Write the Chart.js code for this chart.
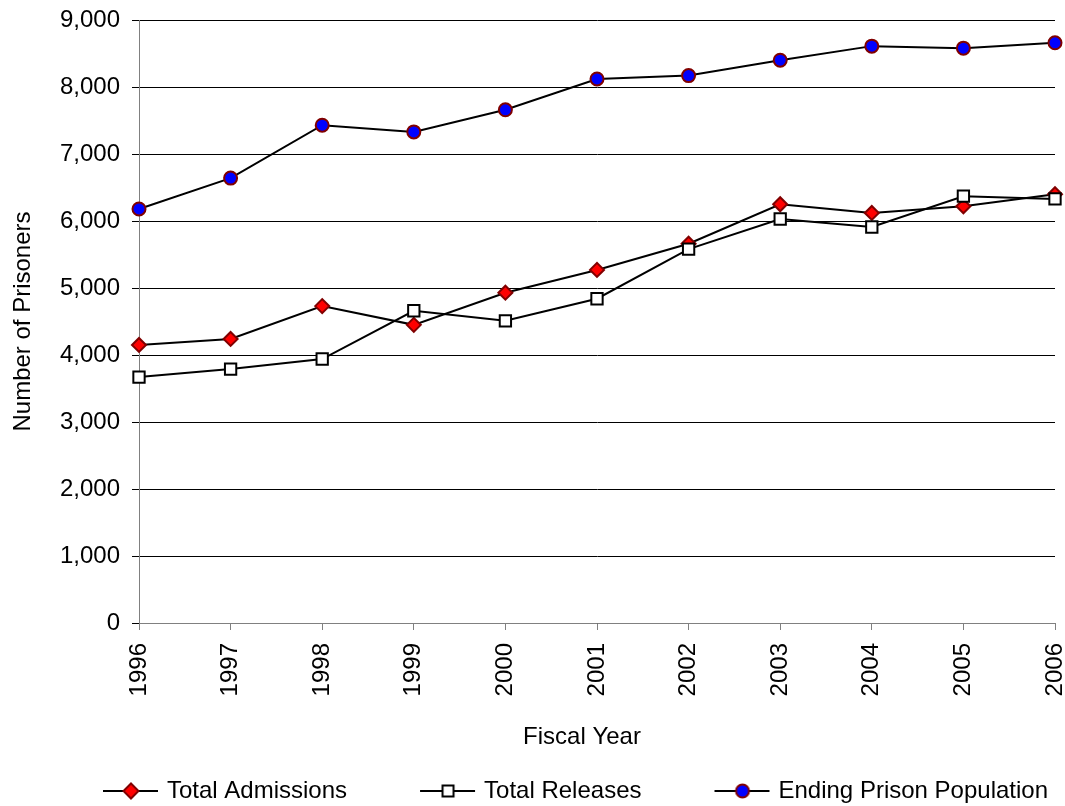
<!DOCTYPE html>
<html>
<head>
<meta charset="utf-8">
<script src="https://cdn.jsdelivr.net/npm/chart.js@4"></script>
<style>
html, body { margin:0; padding:0; background:#fff; }
#wrap { width:1065px; height:806px; position:relative; }
</style>
</head>
<body>
<div id="wrap"><canvas id="prisonChart"></canvas></div>
<script>
var years = ['1996','1997','1998','1999','2000','2001','2002','2003','2004','2005','2006'];
var totalAdmissions = [4150, 4240, 4730, 4450, 4930, 5270, 5660, 6250, 6120, 6220, 6400];
var totalReleases = [3670, 3790, 3940, 4660, 4510, 4840, 5580, 6030, 5910, 6370, 6330];
var endingPopulation = [6180, 6640, 7430, 7330, 7660, 8120, 8170, 8400, 8610, 8580, 8660];
var seriesNames = ['Total Admissions', 'Total Releases', 'Ending Prison Population'];
var xTitle = 'Fiscal Year';
var yTitle = 'Number of Prisoners';
var yMin = 0, yMax = 9000, yStep = 1000;

Chart.defaults.font.family = '"Liberation Sans", Arial, sans-serif';
Chart.defaults.font.size = 24;
Chart.defaults.color = '#000';

/* legend icon: line with marker, drawn to a small canvas */
var legendBox = 118;
function legendIcon(style, fill, border) {
	var w = legendBox + 12, h = 20;
	var c = document.createElement('canvas');
	c.width = w; c.height = h;
	var g = c.getContext('2d');
	var cx = w - 30, cy = h / 2;
	g.strokeStyle = '#000';
	g.lineWidth = 2;
	g.beginPath(); g.moveTo(w - 58, cy); g.lineTo(w - 3, cy); g.stroke();
	g.fillStyle = fill;
	g.strokeStyle = border;
	g.lineWidth = 2;
	g.beginPath();
	if (style === 'circle') {
		g.arc(cx, cy, 6.5, 0, Math.PI * 2);
	} else if (style === 'rectRot') {
		g.moveTo(cx, cy - 7.5); g.lineTo(cx + 7.5, cy); g.lineTo(cx, cy + 7.5); g.lineTo(cx - 7.5, cy); g.closePath();
	} else {
		g.rect(cx - 5.5, cy - 5.5, 11, 11);
	}
	g.fill(); g.stroke();
	return c;
}

var icons = [
	legendIcon('rectRot', '#ff0000', '#800000'),
	legendIcon('rect', '#ffffff', '#000000'),
	legendIcon('circle', '#0000ff', '#800000')
];

/* x axis title sits a little left of the plot centre in the original */
var xTitlePlugin = {
	id: 'xTitlePlugin',
	afterDraw: function(chart) {
		var c = chart.ctx;
		var xs = chart.scales.x;
		c.save();
		c.font = '24px "Liberation Sans", Arial, sans-serif';
		c.fillStyle = '#000';
		c.textAlign = 'center';
		c.textBaseline = 'middle';
		c.fillText(xTitle, (xs.left + xs.right) / 2 - 15, xs.bottom - 35);
		c.restore();
	}
};

var ctx = document.getElementById('prisonChart').getContext('2d');
var myChart = new Chart(ctx, {
	type: 'line',
	data: {
		labels: years,
		datasets: [{
			label: seriesNames[0],
			data: totalAdmissions,
			borderColor: '#000',
			borderWidth: 2,
			pointStyle: 'rectRot',
			pointRadius: 7,
			pointHoverRadius: 7,
			pointBackgroundColor: '#ff0000',
			pointBorderColor: '#800000',
			pointBorderWidth: 2,
			tension: 0,
			order: 2
		}, {
			label: seriesNames[1],
			data: totalReleases,
			borderColor: '#000',
			borderWidth: 2,
			pointStyle: 'rect',
			pointRadius: 8,
			pointHoverRadius: 8,
			pointBackgroundColor: '#fff',
			pointBorderColor: '#000',
			pointBorderWidth: 2,
			tension: 0,
			order: 1
		}, {
			label: seriesNames[2],
			data: endingPopulation,
			borderColor: '#000',
			borderWidth: 2,
			pointStyle: 'circle',
			pointRadius: 6.5,
			pointHoverRadius: 6.5,
			pointBackgroundColor: '#0000ff',
			pointBorderColor: '#800000',
			pointBorderWidth: 2,
			tension: 0,
			order: 0
		}]
	},
	options: {
		responsive: true,
		maintainAspectRatio: false,
		animation: false,
		devicePixelRatio: 1,
		layout: { padding: { top: 20, right: 10, bottom: -7, left: 0 } },
		plugins: {
			tooltip: { enabled: false },
			legend: {
				position: 'bottom',
				align: 'end',
				labels: {
					usePointStyle: true,
					pointStyleWidth: legendBox,
					padding: 7,
					color: '#000',
					font: { size: 24 },
					generateLabels: function(chart) {
						return chart.data.datasets.map(function(ds, i) {
							return {
								text: ds.label,
								pointStyle: icons[i],
								datasetIndex: i,
								fillStyle: '#fff',
								strokeStyle: '#000',
								lineWidth: 0,
								hidden: false
							};
						});
					}
				}
			}
		},
		scales: {
			x: {
				offset: false,
				grid: { display: true, drawOnChartArea: false, drawTicks: true, tickLength: 7, color: '#808080' },
				border: { color: '#808080', width: 1 },
				ticks: { minRotation: 90, maxRotation: 90, padding: 13, autoSkip: false, color: '#000' },
				title: { display: false },
				afterFit: function(s) {
					s.height = 149;
					s.paddingLeft = 0;
					s.paddingRight = 0;
				}
			},
			y: {
				min: yMin,
				max: yMax,
				ticks: {
					stepSize: yStep,
					padding: 12,
					color: '#000',
					callback: function(v) { return v.toLocaleString('en-US'); }
				},
				grid: { color: '#000', lineWidth: 1, tickLength: 7, tickColor: '#000' },
				border: { color: '#808080', width: 1 },
				title: { display: true, text: yTitle, color: '#000', padding: { top: 9, bottom: 0 } },
				afterFit: function(s) {
					s.width = 139;
					s.paddingTop = 0;
					s.paddingBottom = 0;
				}
			}
		}
	},
	plugins: [xTitlePlugin]
});
</script>
</body>
</html>
